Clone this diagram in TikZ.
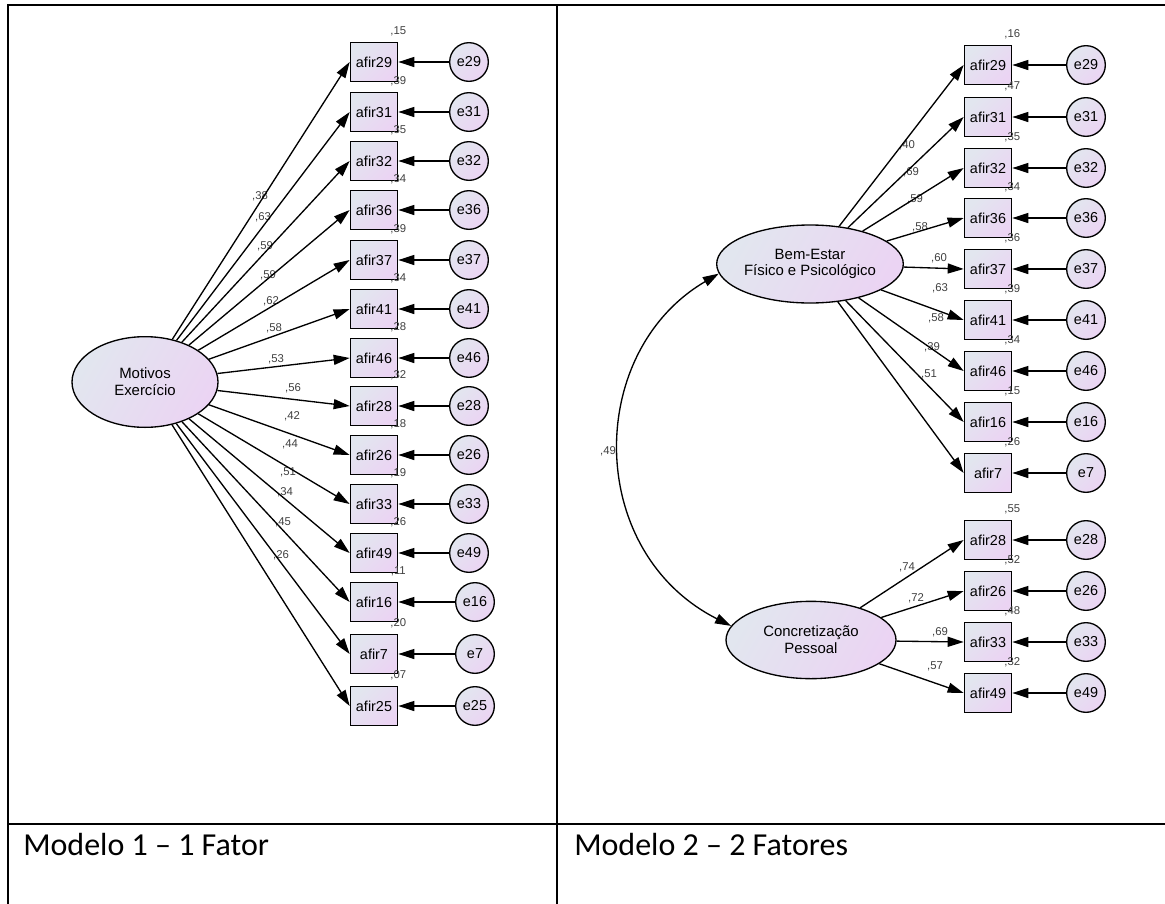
\documentclass[tikz,border=0pt]{standalone}
\usepackage{fontspec}
\setmainfont{Liberation Sans}
\newfontfamily\capfont{Carlito}
\usepackage{xcolor}
\usepackage{tikz}
\usetikzlibrary{shapes.geometric,arrows.meta}
\definecolor{amosA}{HTML}{E2E6EF}
\definecolor{amosB}{HTML}{EBD4F3}
\tikzset{obs/.style={rectangle,draw,line width=1pt,minimum width=35.5pt,minimum height=29.5pt,inner sep=0pt,top color=amosA,bottom color=amosB,shading angle=45,font=\fontsize{10.8}{12}\selectfont}}
\tikzset{err/.style={circle,draw,line width=1pt,minimum size=29pt,inner sep=0pt,top color=amosA,bottom color=amosB,shading angle=45,font=\fontsize{10.8}{12}\selectfont}}
\tikzset{lat/.style={ellipse,draw,line width=1pt,inner sep=0pt,align=center,top color=amosA,bottom color=amosB,shading angle=60,font=\fontsize{11.2}{12.6}\selectfont}}
\tikzset{lbl/.style={inner sep=0pt,text=black!75,font=\fontsize{8.5}{9}\selectfont}}
\tikzset{capt/.style={anchor=base west,inner sep=0pt,font=\capfont\fontsize{24}{28}\selectfont}}

\begin{document}
\begin{tikzpicture}[x=0.75pt,y=-0.75pt,>={Triangle[length=12pt,width=7.5pt]}]
    \useasboundingbox (0,0) rectangle (1165,904);
    % table
    \draw[line width=1.5pt] (1167,5) -- (8,5) -- (8,906);
    \draw[line width=1.5pt] (557,5) -- (557,906);
    \draw[line width=1.5pt] (8,824) -- (1167,824);
    \node[capt] (cap1) at (23,855) {Modelo 1 – 1 Fator};
    \node[capt] (cap2) at (574,855) {Modelo 2 – 2 Fatores};

    % modelo 1
    \node[lat,minimum width=109.5pt,minimum height=68pt] (mot) at (145,382) {Motivos\\Exercício};
    \node[obs] (L29) at (374,62) {afir29};
    \node[obs] (L31) at (374,112) {afir31};
    \node[obs] (L32) at (374,161) {afir32};
    \node[obs] (L36) at (374,210) {afir36};
    \node[obs] (L37) at (374,260) {afir37};
    \node[obs] (L41) at (374,309) {afir41};
    \node[obs] (L46) at (374,358) {afir46};
    \node[obs] (L28) at (374,406) {afir28};
    \node[obs] (L26) at (374,455) {afir26};
    \node[obs] (L33) at (374,504) {afir33};
    \node[obs] (L49) at (374,553) {afir49};
    \node[obs] (L16) at (374,602) {afir16};
    \node[obs] (L7) at (374,654) {afir7};
    \node[obs] (L25) at (374,706) {afir25};

    \node[err] (Le29) at (469,62) {e29};
    \node[err] (Le31) at (469,112) {e31};
    \node[err] (Le32) at (469,161) {e32};
    \node[err] (Le36) at (469,210) {e36};
    \node[err] (Le37) at (469,260) {e37};
    \node[err] (Le41) at (469,309) {e41};
    \node[err] (Le46) at (469,358) {e46};
    \node[err] (Le28) at (469,406) {e28};
    \node[err] (Le26) at (469,455) {e26};
    \node[err] (Le33) at (469,504) {e33};
    \node[err] (Le49) at (469,553) {e49};
    \node[err] (Le16) at (475,602) {e16};
    \node[err] (Le7) at (475,654) {e7};
    \node[err] (Le25) at (475,706) {e25};

    \node[lbl] (Lv29) at ([yshift=7.5pt]L29.north east) {,15};
    \node[lbl] (Lv31) at ([yshift=7.5pt]L31.north east) {,39};
    \node[lbl] (Lv32) at ([yshift=7.5pt]L32.north east) {,35};
    \node[lbl] (Lv36) at ([yshift=7.5pt]L36.north east) {,34};
    \node[lbl] (Lv37) at ([yshift=7.5pt]L37.north east) {,39};
    \node[lbl] (Lv41) at ([yshift=7.5pt]L41.north east) {,34};
    \node[lbl] (Lv46) at ([yshift=7.5pt]L46.north east) {,28};
    \node[lbl] (Lv28) at ([yshift=7.5pt]L28.north east) {,32};
    \node[lbl] (Lv26) at ([yshift=7.5pt]L26.north east) {,18};
    \node[lbl] (Lv33) at ([yshift=7.5pt]L33.north east) {,19};
    \node[lbl] (Lv49) at ([yshift=7.5pt]L49.north east) {,26};
    \node[lbl] (Lv16) at ([yshift=7.5pt]L16.north east) {,11};
    \node[lbl] (Lv7) at ([yshift=7.5pt]L7.north east) {,20};
    \node[lbl] (Lv25) at ([yshift=7.5pt]L25.north east) {,07};

    \node[lbl] (Lw29) at (260,196) {,38};
    \node[lbl] (Lw31) at (263,217) {,63};
    \node[lbl] (Lw32) at (265,246) {,59};
    \node[lbl] (Lw36) at (268,275) {,59};
    \node[lbl] (Lw37) at (271,301) {,62};
    \node[lbl] (Lw41) at (274,328) {,58};
    \node[lbl] (Lw46) at (276,359) {,53};
    \node[lbl] (Lw28) at (293,388) {,56};
    \node[lbl] (Lw26) at (292,416) {,42};
    \node[lbl] (Lw33) at (290,444) {,44};
    \node[lbl] (Lw49) at (288,472) {,51};
    \node[lbl] (Lw16) at (285,492) {,34};
    \node[lbl] (Lw7) at (283,522) {,45};
    \node[lbl] (Lw25) at (281,555) {,26};

    \draw [->,line width=1pt] (mot) to (L29.west);
    \draw [->,line width=1pt] (mot) to (L31.west);
    \draw [->,line width=1pt] (mot) to (L32.west);
    \draw [->,line width=1pt] (mot) to (L36.west);
    \draw [->,line width=1pt] (mot) to (L37.west);
    \draw [->,line width=1pt] (mot) to (L41.west);
    \draw [->,line width=1pt] (mot) to (L46.west);
    \draw [->,line width=1pt] (mot) to (L28.west);
    \draw [->,line width=1pt] (mot) to (L26.west);
    \draw [->,line width=1pt] (mot) to (L33.west);
    \draw [->,line width=1pt] (mot) to (L49.west);
    \draw [->,line width=1pt] (mot) to (L16.west);
    \draw [->,line width=1pt] (mot) to (L7.west);
    \draw [->,line width=1pt] (mot) to (L25.west);

    \draw [->,line width=1pt] (Le29) to (L29);
    \draw [->,line width=1pt] (Le31) to (L31);
    \draw [->,line width=1pt] (Le32) to (L32);
    \draw [->,line width=1pt] (Le36) to (L36);
    \draw [->,line width=1pt] (Le37) to (L37);
    \draw [->,line width=1pt] (Le41) to (L41);
    \draw [->,line width=1pt] (Le46) to (L46);
    \draw [->,line width=1pt] (Le28) to (L28);
    \draw [->,line width=1pt] (Le26) to (L26);
    \draw [->,line width=1pt] (Le33) to (L33);
    \draw [->,line width=1pt] (Le49) to (L49);
    \draw [->,line width=1pt] (Le16) to (L16);
    \draw [->,line width=1pt] (Le7) to (L7);
    \draw [->,line width=1pt] (Le25) to (L25);

    % modelo 2
    \node[lat,minimum width=127.5pt,minimum height=58.5pt] (bem) at (810,264) {Bem-Estar\\Físico e Psicológico};
    \node[lat,minimum width=127.5pt,minimum height=58pt] (con) at (811,640) {Concretização\\Pessoal};
    \node[obs] (R29) at (988,65) {afir29};
    \node[obs] (R31) at (988,117) {afir31};
    \node[obs] (R32) at (988,168) {afir32};
    \node[obs] (R36) at (988,218) {afir36};
    \node[obs] (R37) at (988,269) {afir37};
    \node[obs] (R41) at (988,320) {afir41};
    \node[obs] (R46) at (988,371) {afir46};
    \node[obs] (R16) at (988,422) {afir16};
    \node[obs] (R7) at (988,473) {afir7};
    \node[obs] (R28) at (988,540) {afir28};
    \node[obs] (R26) at (988,591) {afir26};
    \node[obs] (R33) at (988,642) {afir33};
    \node[obs] (R49) at (988,693) {afir49};

    \node[err] (Re29) at (1086,65) {e29};
    \node[err] (Re31) at (1086,117) {e31};
    \node[err] (Re32) at (1086,168) {e32};
    \node[err] (Re36) at (1086,218) {e36};
    \node[err] (Re37) at (1086,269) {e37};
    \node[err] (Re41) at (1086,320) {e41};
    \node[err] (Re46) at (1086,371) {e46};
    \node[err] (Re16) at (1086,422) {e16};
    \node[err] (Re7) at (1086,473) {e7};
    \node[err] (Re28) at (1086,540) {e28};
    \node[err] (Re26) at (1086,591) {e26};
    \node[err] (Re33) at (1086,642) {e33};
    \node[err] (Re49) at (1086,693) {e49};

    \node[lbl] (Rv29) at ([yshift=7.5pt]R29.north east) {,16};
    \node[lbl] (Rv31) at ([yshift=7.5pt]R31.north east) {,47};
    \node[lbl] (Rv32) at ([yshift=7.5pt]R32.north east) {,35};
    \node[lbl] (Rv36) at ([yshift=7.5pt]R36.north east) {,34};
    \node[lbl] (Rv37) at ([yshift=7.5pt]R37.north east) {,36};
    \node[lbl] (Rv41) at ([yshift=7.5pt]R41.north east) {,39};
    \node[lbl] (Rv46) at ([yshift=7.5pt]R46.north east) {,34};
    \node[lbl] (Rv16) at ([yshift=7.5pt]R16.north east) {,15};
    \node[lbl] (Rv7) at ([yshift=7.5pt]R7.north east) {,26};
    \node[lbl] (Rv28) at ([yshift=7.5pt]R28.north east) {,55};
    \node[lbl] (Rv26) at ([yshift=7.5pt]R26.north east) {,52};
    \node[lbl] (Rv33) at ([yshift=7.5pt]R33.north east) {,48};
    \node[lbl] (Rv49) at ([yshift=7.5pt]R49.north east) {,32};

    \node[lbl] (Rw29) at (907,145) {,40};
    \node[lbl] (Rw31) at (911,172) {,69};
    \node[lbl] (Rw32) at (915,199) {,59};
    \node[lbl] (Rw36) at (920,227) {,58};
    \node[lbl] (Rw37) at (939,258) {,60};
    \node[lbl] (Rw41) at (940,288) {,63};
    \node[lbl] (Rw46) at (936,318) {,58};
    \node[lbl] (Rw16) at (932,347) {,39};
    \node[lbl] (Rw7) at (929,374) {,51};
    \node[lbl] (Rw28) at (907,567) {,74};
    \node[lbl] (Rw26) at (916,598) {,72};
    \node[lbl] (Rw33) at (940,632) {,69};
    \node[lbl] (Rw49) at (935,666) {,57};
    \node[lbl] (cov) at (608,451) {,49};

    \draw [<->,line width=1pt] (bem.186) .. controls (585,352) and (585,552) .. (con.170);

    \draw [->,line width=1pt] (bem) to (R29.west);
    \draw [->,line width=1pt] (bem) to (R31.west);
    \draw [->,line width=1pt] (bem) to (R32.west);
    \draw [->,line width=1pt] (bem) to (R36.west);
    \draw [->,line width=1pt] (bem) to (R37.west);
    \draw [->,line width=1pt] (bem) to (R41.west);
    \draw [->,line width=1pt] (bem) to (R46.west);
    \draw [->,line width=1pt] (bem) to (R16.west);
    \draw [->,line width=1pt] (bem) to (R7.west);
    \draw [->,line width=1pt] (con) to (R28.west);
    \draw [->,line width=1pt] (con) to (R26.west);
    \draw [->,line width=1pt] (con) to (R33.west);
    \draw [->,line width=1pt] (con) to (R49.west);

    \draw [->,line width=1pt] (Re29) to (R29);
    \draw [->,line width=1pt] (Re31) to (R31);
    \draw [->,line width=1pt] (Re32) to (R32);
    \draw [->,line width=1pt] (Re36) to (R36);
    \draw [->,line width=1pt] (Re37) to (R37);
    \draw [->,line width=1pt] (Re41) to (R41);
    \draw [->,line width=1pt] (Re46) to (R46);
    \draw [->,line width=1pt] (Re16) to (R16);
    \draw [->,line width=1pt] (Re7) to (R7);
    \draw [->,line width=1pt] (Re28) to (R28);
    \draw [->,line width=1pt] (Re26) to (R26);
    \draw [->,line width=1pt] (Re33) to (R33);
    \draw [->,line width=1pt] (Re49) to (R49);
\end{tikzpicture}
\end{document}
